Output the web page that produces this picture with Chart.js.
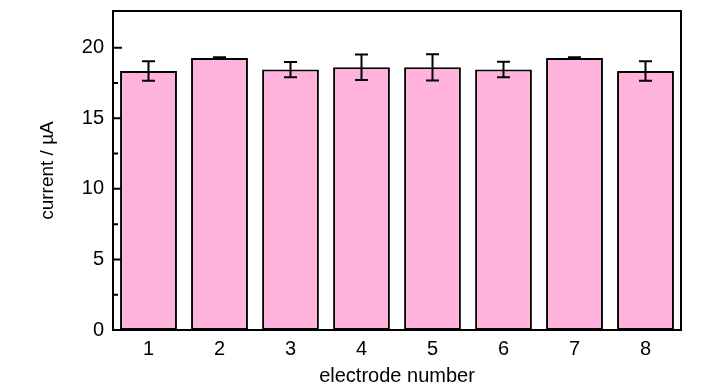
<!DOCTYPE html>
<html>
<head>
<meta charset="utf-8">
<script src="https://cdn.jsdelivr.net/npm/chart.js@4"></script>
<style>
  html, body { margin: 0; padding: 0; background: #fff; }
  canvas { display: block; }
</style>
</head>
<body>
<canvas id="chart" width="728" height="390"></canvas>
<script>
const electrodes = ['1', '2', '3', '4', '5', '6', '7', '8'];
const currents = [18.35, 19.27, 18.45, 18.61, 18.61, 18.45, 19.27, 18.35];
const errors = [0.69, 0.05, 0.54, 0.9, 0.93, 0.55, 0.05, 0.69];
const majorTicks = [0, 5, 10, 15, 20];
const minorTicks = [2.5, 7.5, 12.5, 17.5];

const FONT = "'Liberation Sans', Arial, sans-serif";

// error bars + frame + inward ticks
const extras = {
    id: 'extras',
    afterDatasetsDraw(chart) {
        const ctx = chart.ctx, y = chart.scales.y, a = chart.chartArea;
        const meta = chart.getDatasetMeta(0);
        ctx.save();
        ctx.strokeStyle = '#000';
        ctx.lineWidth = 2;
        meta.data.forEach((bar, i) => {
            const hi = y.getPixelForValue(currents[i] + errors[i]);
            const lo = y.getPixelForValue(currents[i] - errors[i]);
            ctx.beginPath();
            ctx.moveTo(bar.x, hi); ctx.lineTo(bar.x, lo);
            ctx.moveTo(bar.x - 6.5, hi); ctx.lineTo(bar.x + 6.5, hi);
            ctx.moveTo(bar.x - 6.5, lo); ctx.lineTo(bar.x + 6.5, lo);
            ctx.stroke();
        });
        ctx.beginPath();
        majorTicks.forEach(v => {
            const py = y.getPixelForValue(v);
            ctx.moveTo(a.left, py); ctx.lineTo(a.left + 9, py);
        });
        minorTicks.forEach(v => {
            const py = y.getPixelForValue(v);
            ctx.moveTo(a.left, py); ctx.lineTo(a.left + 5, py);
        });
        ctx.stroke();
        ctx.strokeRect(a.left, a.top, a.right - a.left, a.bottom - a.top);
        ctx.restore();
    }
};

new Chart(document.getElementById('chart'), {
    type: 'bar',
    data: {
        labels: electrodes,
        datasets: [{
            data: currents,
            backgroundColor: '#ffb3dc',
            borderColor: '#000',
            borderWidth: 2,
            borderSkipped: false,
            categoryPercentage: 0.8,
            barPercentage: 1.0
        }]
    },
    options: {
        responsive: false,
        animation: false,
        layout: { padding: { left: 0, right: 47, top: 11, bottom: 0 } },
        plugins: { legend: { display: false }, tooltip: { enabled: false } },
        scales: {
            x: {
                grid: { display: false, drawTicks: false },
                border: { display: false },
                ticks: { color: '#000', font: { family: FONT, size: 20 }, padding: 7 },
                title: { display: true, text: 'electrode number', color: '#000', font: { family: FONT, size: 20 }, padding: { top: 0, bottom: 2 } },
                afterFit(s) { s.height = 60; s.paddingLeft = 0; s.paddingRight = 0; }
            },
            y: {
                min: 0,
                max: 22.6,
                grid: { display: false, drawTicks: false },
                border: { display: false },
                ticks: { stepSize: 5, color: '#000', font: { family: FONT, size: 20 }, padding: 9 },
                afterBuildTicks(s) { s.ticks = majorTicks.map(v => ({ value: v })); },
                title: { display: true, text: 'current / µA', color: '#000', font: { family: FONT, size: 19 }, padding: { top: 36, bottom: 0 } },
                afterFit(s) { s.width = 113; s.paddingTop = 0; s.paddingBottom = 0; }
            }
        }
    },
    plugins: [extras]
});
</script>
</body>
</html>
